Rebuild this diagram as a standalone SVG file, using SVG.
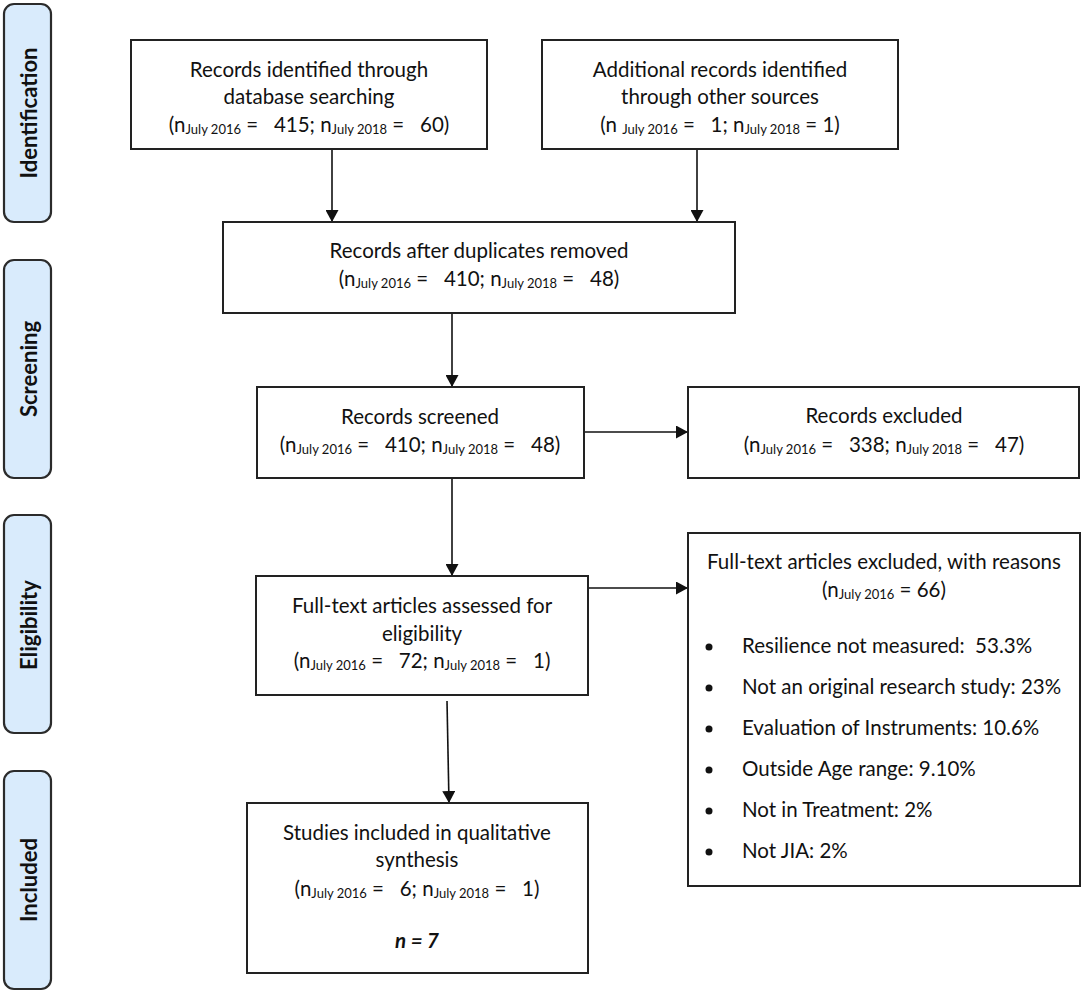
<svg xmlns="http://www.w3.org/2000/svg" width="1084" height="992" viewBox="0 0 1084 992">
<style>
  .phase { fill: #d9ebfc; stroke: #2b2b2b; stroke-width: 2.2; }
  .phase-t { font-family: Lato, "Open Sans", sans-serif; font-weight: bold; font-size: 22px; fill: #111; text-anchor: middle; }
  .box { fill: #fff; stroke: #222; stroke-width: 2; }
  .t { font-family: Lato, "Open Sans", sans-serif; font-size: 20.5px; fill: #111; text-anchor: middle; }
  .tl { font-family: Lato, "Open Sans", sans-serif; font-size: 20.5px; fill: #111; text-anchor: start; }
  .s { font-size: 13px; }
  .conn { stroke: #111; stroke-width: 1.6; fill: none; marker-end: url(#ah); }
  .bul { fill: #111; }
</style>
<defs>
  <marker id="ah" markerUnits="userSpaceOnUse" markerWidth="13" markerHeight="13" refX="12" refY="6.5" orient="auto">
    <path d="M0,0 L12,6.5 L0,13 z" fill="#111"/>
  </marker>
</defs>
<rect width="1084" height="992" fill="#fff"/>

<g id="phase-identification">
  <rect class="phase" x="4" y="4" width="47" height="218" rx="10"/>
  <text class="phase-t" transform="translate(37,113) rotate(-90)">Identification</text>
</g>
<g id="phase-screening">
  <rect class="phase" x="4" y="260" width="47" height="218" rx="10"/>
  <text class="phase-t" transform="translate(37,369) rotate(-90)">Screening</text>
</g>
<g id="phase-eligibility">
  <rect class="phase" x="4" y="515" width="47" height="218" rx="10"/>
  <text class="phase-t" transform="translate(37,625) rotate(-90)">Eligibility</text>
</g>
<g id="phase-included">
  <rect class="phase" x="4" y="771" width="47" height="218" rx="10"/>
  <text class="phase-t" transform="translate(37,880) rotate(-90)">Included</text>
</g>

<g id="connectors">
  <line class="conn" x1="332" y1="149" x2="332" y2="222"/>
  <line class="conn" x1="697" y1="149" x2="697" y2="222"/>
  <line class="conn" x1="452" y1="313" x2="452" y2="387"/>
  <line class="conn" x1="584" y1="432" x2="688" y2="432"/>
  <line class="conn" x1="452" y1="478" x2="452" y2="576"/>
  <line class="conn" x1="588" y1="588" x2="688" y2="588"/>
  <line class="conn" x1="447" y1="701" x2="449" y2="803"/>
</g>

<g id="node-database">
  <rect class="box" x="131" y="40" width="356" height="109"/>
  <text class="t" x="309" y="77">Records identified through</text>
  <text class="t" x="309" y="104">database searching</text>
  <text class="t" x="309" y="132" xml:space="preserve">(n<tspan class="s" dy="2">July 2016</tspan><tspan dy="-2"> =   415; n</tspan><tspan class="s" dy="2">July 2018</tspan><tspan dy="-2"> =   60)</tspan></text>
</g>

<g id="node-other">
  <rect class="box" x="542" y="40" width="356" height="109"/>
  <text class="t" x="720" y="77">Additional records identified</text>
  <text class="t" x="720" y="104">through other sources</text>
  <text class="t" x="720" y="132" xml:space="preserve">(n <tspan class="s" dy="2">July 2016</tspan><tspan dy="-2"> =   1; n</tspan><tspan class="s" dy="2">July 2018</tspan><tspan dy="-2"> = 1)</tspan></text>
</g>

<g id="node-duplicates">
  <rect class="box" x="223" y="222" width="512" height="91"/>
  <text class="t" x="479" y="258">Records after duplicates removed</text>
  <text class="t" x="479" y="286" xml:space="preserve">(n<tspan class="s" dy="2">July 2016</tspan><tspan dy="-2"> =   410; n</tspan><tspan class="s" dy="2">July 2018</tspan><tspan dy="-2"> =   48)</tspan></text>
</g>

<g id="node-screened">
  <rect class="box" x="257" y="387" width="327" height="91"/>
  <text class="t" x="420" y="424">Records screened</text>
  <text class="t" x="420" y="452" xml:space="preserve">(n<tspan class="s" dy="2">July 2016</tspan><tspan dy="-2"> =   410; n</tspan><tspan class="s" dy="2">July 2018</tspan><tspan dy="-2"> =   48)</tspan></text>
</g>

<g id="node-excluded">
  <rect class="box" x="688" y="387" width="391" height="91"/>
  <text class="t" x="884" y="423">Records excluded</text>
  <text class="t" x="884" y="452" xml:space="preserve">(n<tspan class="s" dy="2">July 2016</tspan><tspan dy="-2"> =   338; n</tspan><tspan class="s" dy="2">July 2018</tspan><tspan dy="-2"> =   47)</tspan></text>
</g>

<g id="node-fulltext">
  <rect class="box" x="256" y="576" width="332" height="119"/>
  <text class="t" x="422" y="613">Full-text articles assessed for</text>
  <text class="t" x="422" y="641">eligibility</text>
  <text class="t" x="422" y="668" xml:space="preserve">(n<tspan class="s" dy="2">July 2016</tspan><tspan dy="-2"> =   72; n</tspan><tspan class="s" dy="2">July 2018</tspan><tspan dy="-2"> =   1)</tspan></text>
</g>

<g id="node-reasons">
  <rect class="box" x="688" y="533" width="392" height="353"/>
  <text class="t" x="884" y="569">Full-text articles excluded, with reasons</text>
  <text class="t" x="884" y="597" xml:space="preserve">(n<tspan class="s" dy="2">July 2016</tspan><tspan dy="-2"> = 66)</tspan></text>
  <circle class="bul" cx="709" cy="647" r="3.5"/>
  <text class="tl" x="742" y="653" xml:space="preserve">Resilience not measured:  53.3%</text>
  <circle class="bul" cx="709" cy="688" r="3.5"/>
  <text class="tl" x="742" y="694">Not an original research study: 23%</text>
  <circle class="bul" cx="709" cy="729" r="3.5"/>
  <text class="tl" x="742" y="735">Evaluation of Instruments: 10.6%</text>
  <circle class="bul" cx="709" cy="770" r="3.5"/>
  <text class="tl" x="742" y="776">Outside Age range: 9.10%</text>
  <circle class="bul" cx="709" cy="811" r="3.5"/>
  <text class="tl" x="742" y="817">Not in Treatment: 2%</text>
  <circle class="bul" cx="709" cy="852" r="3.5"/>
  <text class="tl" x="742" y="858">Not JIA: 2%</text>
</g>

<g id="node-included">
  <rect class="box" x="247" y="803" width="341" height="170"/>
  <text class="t" x="417" y="840">Studies included in qualitative</text>
  <text class="t" x="417" y="867">synthesis</text>
  <text class="t" x="417" y="896" xml:space="preserve">(n<tspan class="s" dy="2">July 2016</tspan><tspan dy="-2"> =   6; n</tspan><tspan class="s" dy="2">July 2018</tspan><tspan dy="-2"> =   1)</tspan></text>
  <text class="t" x="417" y="948" font-weight="bold" font-style="italic">n = 7</text>
</g>
</svg>
